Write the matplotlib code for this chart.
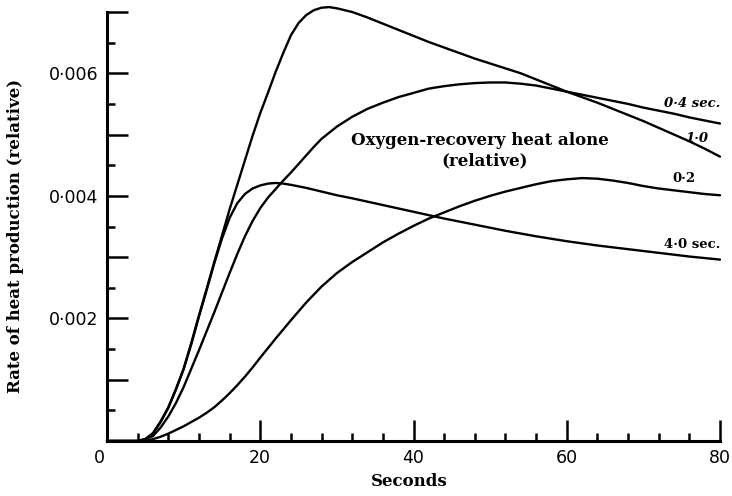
import matplotlib
matplotlib.use('Agg')
import matplotlib.pyplot as plt
import matplotlib.transforms as mtransforms
from matplotlib.ticker import MultipleLocator, FixedLocator, FixedFormatter

# time in seconds, heat rate in units of 0.001
t_10 = [0, 4, 5, 6, 7, 8, 9, 10, 11, 12, 13, 14, 15, 16, 17, 18, 19, 20, 21, 22, 23, 24,
        25, 26, 27, 28, 29, 30, 32, 34, 36, 38, 40, 42, 44, 46, 48, 50, 52, 54, 56, 58,
        60, 62, 64, 66, 68, 70, 72, 74, 76, 78, 80]
rate_10 = [0, 0, 0.03, 0.13, 0.32, 0.55, 0.85, 1.18, 1.6, 2.05, 2.48, 2.92, 3.35, 3.78,
           4.18, 4.58, 4.98, 5.35, 5.68, 6.02, 6.33, 6.62, 6.82, 6.95, 7.03, 7.07, 7.08,
           7.06, 7.0, 6.91, 6.81, 6.71, 6.61, 6.51, 6.42, 6.33, 6.24, 6.16, 6.08, 6.0,
           5.9, 5.8, 5.7, 5.61, 5.52, 5.42, 5.32, 5.22, 5.11, 5.0, 4.89, 4.77, 4.64]

t_04 = [0, 4, 5, 6, 7, 8, 9, 10, 11, 12, 13, 14, 15, 16, 17, 18, 19, 20, 21, 22, 23, 24,
        25, 26, 27, 28, 30, 32, 34, 36, 38, 40, 42, 44, 46, 48, 50, 52, 54, 56, 58, 60,
        62, 64, 66, 68, 70, 72, 74, 76, 78, 80]
rate_04 = [0, 0, 0.03, 0.08, 0.22, 0.4, 0.62, 0.88, 1.18, 1.48, 1.79, 2.1, 2.42, 2.74,
           3.05, 3.34, 3.59, 3.8, 3.97, 4.11, 4.25, 4.38, 4.52, 4.66, 4.8, 4.93, 5.13, 5.29,
           5.42, 5.52, 5.61, 5.68, 5.75, 5.79, 5.82, 5.84, 5.85, 5.85, 5.83, 5.8, 5.75,
           5.7, 5.65, 5.6, 5.55, 5.5, 5.44, 5.39, 5.34, 5.28, 5.23, 5.18]

t_02 = [0, 5, 6, 7, 8, 9, 10, 11, 12, 13, 14, 15, 16, 17, 18, 19, 20, 22, 24, 26, 28, 30,
        32, 34, 36, 38, 40, 42, 44, 46, 48, 50, 52, 54, 56, 58, 60, 62, 64, 66, 68, 70,
        72, 74, 76, 78, 80]
rate_02 = [0, 0, 0.03, 0.07, 0.12, 0.18, 0.24, 0.31, 0.38, 0.46, 0.55, 0.66, 0.78, 0.91,
           1.05, 1.2, 1.36, 1.67, 1.97, 2.26, 2.52, 2.74, 2.92, 3.08, 3.24, 3.38, 3.51,
           3.63, 3.73, 3.83, 3.92, 4.0, 4.07, 4.13, 4.19, 4.24, 4.27, 4.29, 4.28, 4.25,
           4.21, 4.16, 4.12, 4.09, 4.06, 4.03, 4.01]

t_40 = [0, 4, 5, 6, 7, 8, 9, 10, 11, 12, 13, 14, 15, 16, 17, 18, 19, 20, 21, 22, 23, 24,
        26, 28, 30, 32, 36, 40, 44, 48, 52, 56, 60, 64, 68, 72, 76, 80]
rate_40 = [0, 0, 0.03, 0.12, 0.31, 0.54, 0.84, 1.17, 1.58, 2.03, 2.46, 2.9, 3.3, 3.64,
           3.88, 4.03, 4.12, 4.17, 4.2, 4.21, 4.2, 4.18, 4.13, 4.07, 4.01, 3.96, 3.85,
           3.74, 3.63, 3.53, 3.43, 3.34, 3.26, 3.19, 3.13, 3.07, 3.01, 2.96]

curve_labels = ['0·4 sec.', '1·0', '0·2', '4·0 sec.']
y_tick_labels = ['', '', '0·002', '', '0·004', '', '0·006', '']
x_tick_labels = ['0', '20', '40', '60', '80']

SERIF = 'DejaVu Serif'

fig = plt.figure(figsize=(7.32, 4.96), dpi=100)
ax = fig.add_axes([107 / 732, 55 / 496, 613 / 732, 429 / 496])

for t, r in [(t_10, rate_10), (t_04, rate_04), (t_02, rate_02), (t_40, rate_40)]:
    ax.plot(t, [v * 0.001 for v in r], color='black', lw=1.7, clip_on=False,
            solid_capstyle='round', solid_joinstyle='round')

ax.set_xlim(0, 80)
ax.set_ylim(0, 0.007)

for side in ['top', 'right']:
    ax.spines[side].set_visible(False)
for side in ['left', 'bottom']:
    ax.spines[side].set_linewidth(2.2)

ax.xaxis.set_major_locator(FixedLocator([0, 20, 40, 60, 80]))
ax.xaxis.set_major_formatter(FixedFormatter(x_tick_labels))
ax.xaxis.set_minor_locator(MultipleLocator(4))
ax.yaxis.set_major_locator(FixedLocator([i * 0.001 for i in range(8)]))
ax.yaxis.set_major_formatter(FixedFormatter(y_tick_labels))
ax.yaxis.set_minor_locator(MultipleLocator(0.0005))

ax.tick_params(which='major', direction='in', length=15, width=1.8, labelsize=12.5)
ax.tick_params(which='minor', direction='in', length=5.5, width=1.8)
ax.tick_params(axis='x', which='major', pad=6)
ax.tick_params(axis='y', which='major', pad=6)

# the origin "0" sits a little left of the axis corner
offset = mtransforms.ScaledTranslation(-8 / 100, 0, fig.dpi_scale_trans)
ax.get_xticklabels()[0].set_transform(ax.get_xticklabels()[0].get_transform() + offset)

# curve labels
ax.text(80, 0.00551, curve_labels[0], ha='right', va='center', fontsize=9.5,
        family=SERIF, style='italic', weight='bold')
ax.text(78.5, 0.00494, curve_labels[1], ha='right', va='center', fontsize=9.5,
        family=SERIF, style='italic', weight='bold')
ax.text(76.8, 0.00429, curve_labels[2], ha='right', va='center', fontsize=9.5,
        family=SERIF, weight='bold')
ax.text(80, 0.00320, curve_labels[3], ha='right', va='center', fontsize=9.5,
        family=SERIF, weight='bold')

ax.text(48.7, 0.00491, 'Oxygen-recovery heat alone', ha='center', va='center',
        fontsize=12, family=SERIF, weight='bold')
ax.text(49.3, 0.00457, '(relative)', ha='center', va='center',
        fontsize=12, family=SERIF, weight='bold')

fig.text(409 / 732, 1 - 481 / 496, 'Seconds', ha='center', va='center',
         fontsize=12, family=SERIF, weight='bold')
fig.text(16 / 732, 1 - 236 / 496, 'Rate of heat production (relative)', ha='center',
         va='center', rotation=90, fontsize=12, family=SERIF, weight='bold')

fig.savefig('out.png', dpi=100)
